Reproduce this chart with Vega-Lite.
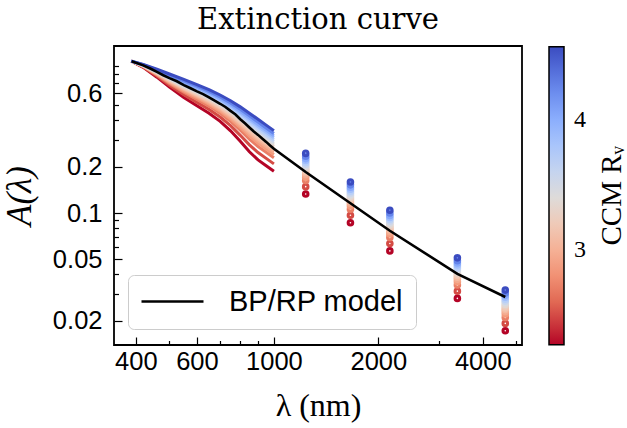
{
"$schema": "https://vega.github.io/schema/vega-lite/v6.json",
"width": 408, "height": 299,
"autosize": {"type": "none"},
"padding": {"left": 114, "top": 46, "right": 105, "bottom": 83},
"background": "white",
"config": {
  "view": {"stroke": "black", "strokeWidth": 1.8},
  "axis": {"domain": false, "grid": false, "tickColor": "black", "tickWidth": 1.2, "labelColor": "black", "titleColor": "black", "labelFont": "Liberation Sans", "labelFontSize": 25.5, "titleFont": "Liberation Serif", "titleFontWeight": "normal", "titleFontSize": 32, "labelOverlap": false, "labelFlush": false}
},
"title": {"text": "Extinction curve", "font": "DejaVu Serif", "fontSize": 29, "fontWeight": "normal", "color": "black", "anchor": "middle", "frame": "group", "offset": 11},
"datasets": {
"curves": [
{"Rv":2.27,"lam":388,"A":0.97},{"Rv":2.27,"lam":420,"A":0.8844},{"Rv":2.27,"lam":460,"A":0.7634},{"Rv":2.27,"lam":500,"A":0.6574},{"Rv":2.27,"lam":550,"A":0.5623},{"Rv":2.27,"lam":600,"A":0.4975},{"Rv":2.27,"lam":650,"A":0.4451},{"Rv":2.27,"lam":700,"A":0.3942},{"Rv":2.27,"lam":750,"A":0.3422},{"Rv":2.27,"lam":800,"A":0.2924},{"Rv":2.27,"lam":850,"A":0.2501},{"Rv":2.27,"lam":900,"A":0.2214},{"Rv":2.27,"lam":950,"A":0.2029},{"Rv":2.27,"lam":1000,"A":0.1868},
{"Rv":2.49,"lam":388,"A":0.97},{"Rv":2.49,"lam":420,"A":0.8900},{"Rv":2.49,"lam":460,"A":0.7769},{"Rv":2.49,"lam":500,"A":0.6775},{"Rv":2.49,"lam":550,"A":0.5869},{"Rv":2.49,"lam":600,"A":0.5236},{"Rv":2.49,"lam":650,"A":0.4715},{"Rv":2.49,"lam":700,"A":0.4209},{"Rv":2.49,"lam":750,"A":0.3695},{"Rv":2.49,"lam":800,"A":0.3200},{"Rv":2.49,"lam":850,"A":0.2775},{"Rv":2.49,"lam":900,"A":0.2473},{"Rv":2.49,"lam":950,"A":0.2267},{"Rv":2.49,"lam":1000,"A":0.2087},
{"Rv":2.71,"lam":388,"A":0.97},{"Rv":2.71,"lam":420,"A":0.8951},{"Rv":2.71,"lam":460,"A":0.7893},{"Rv":2.71,"lam":500,"A":0.6957},{"Rv":2.71,"lam":550,"A":0.6092},{"Rv":2.71,"lam":600,"A":0.5473},{"Rv":2.71,"lam":650,"A":0.4956},{"Rv":2.71,"lam":700,"A":0.4451},{"Rv":2.71,"lam":750,"A":0.3942},{"Rv":2.71,"lam":800,"A":0.3451},{"Rv":2.71,"lam":850,"A":0.3024},{"Rv":2.71,"lam":900,"A":0.2709},{"Rv":2.71,"lam":950,"A":0.2482},{"Rv":2.71,"lam":1000,"A":0.2285},
{"Rv":2.85,"lam":388,"A":0.97},{"Rv":2.85,"lam":420,"A":0.8981},{"Rv":2.85,"lam":460,"A":0.7965},{"Rv":2.85,"lam":500,"A":0.7064},{"Rv":2.85,"lam":550,"A":0.6223},{"Rv":2.85,"lam":600,"A":0.5613},{"Rv":2.85,"lam":650,"A":0.5097},{"Rv":2.85,"lam":700,"A":0.4594},{"Rv":2.85,"lam":750,"A":0.4087},{"Rv":2.85,"lam":800,"A":0.3599},{"Rv":2.85,"lam":850,"A":0.3170},{"Rv":2.85,"lam":900,"A":0.2847},{"Rv":2.85,"lam":950,"A":0.2609},{"Rv":2.85,"lam":1000,"A":0.2402},
{"Rv":2.96,"lam":388,"A":0.97},{"Rv":2.96,"lam":420,"A":0.9004},{"Rv":2.96,"lam":460,"A":0.8020},{"Rv":2.96,"lam":500,"A":0.7144},{"Rv":2.96,"lam":550,"A":0.6321},{"Rv":2.96,"lam":600,"A":0.5717},{"Rv":2.96,"lam":650,"A":0.5202},{"Rv":2.96,"lam":700,"A":0.4701},{"Rv":2.96,"lam":750,"A":0.4196},{"Rv":2.96,"lam":800,"A":0.3709},{"Rv":2.96,"lam":850,"A":0.3280},{"Rv":2.96,"lam":900,"A":0.2951},{"Rv":2.96,"lam":950,"A":0.2704},{"Rv":2.96,"lam":1000,"A":0.2490},
{"Rv":3.06,"lam":388,"A":0.97},{"Rv":3.06,"lam":420,"A":0.9024},{"Rv":3.06,"lam":460,"A":0.8067},{"Rv":3.06,"lam":500,"A":0.7214},{"Rv":3.06,"lam":550,"A":0.6407},{"Rv":3.06,"lam":600,"A":0.5808},{"Rv":3.06,"lam":650,"A":0.5294},{"Rv":3.06,"lam":700,"A":0.4794},{"Rv":3.06,"lam":750,"A":0.4290},{"Rv":3.06,"lam":800,"A":0.3805},{"Rv":3.06,"lam":850,"A":0.3375},{"Rv":3.06,"lam":900,"A":0.3041},{"Rv":3.06,"lam":950,"A":0.2787},{"Rv":3.06,"lam":1000,"A":0.2566},
{"Rv":3.15,"lam":388,"A":0.97},{"Rv":3.15,"lam":420,"A":0.9041},{"Rv":3.15,"lam":460,"A":0.8108},{"Rv":3.15,"lam":500,"A":0.7275},{"Rv":3.15,"lam":550,"A":0.6481},{"Rv":3.15,"lam":600,"A":0.5886},{"Rv":3.15,"lam":650,"A":0.5374},{"Rv":3.15,"lam":700,"A":0.4875},{"Rv":3.15,"lam":750,"A":0.4372},{"Rv":3.15,"lam":800,"A":0.3888},{"Rv":3.15,"lam":850,"A":0.3458},{"Rv":3.15,"lam":900,"A":0.3119},{"Rv":3.15,"lam":950,"A":0.2858},{"Rv":3.15,"lam":1000,"A":0.2632},
{"Rv":3.25,"lam":388,"A":0.97},{"Rv":3.25,"lam":420,"A":0.9059},{"Rv":3.25,"lam":460,"A":0.8152},{"Rv":3.25,"lam":500,"A":0.7340},{"Rv":3.25,"lam":550,"A":0.6560},{"Rv":3.25,"lam":600,"A":0.5971},{"Rv":3.25,"lam":650,"A":0.5460},{"Rv":3.25,"lam":700,"A":0.4961},{"Rv":3.25,"lam":750,"A":0.4460},{"Rv":3.25,"lam":800,"A":0.3977},{"Rv":3.25,"lam":850,"A":0.3546},{"Rv":3.25,"lam":900,"A":0.3203},{"Rv":3.25,"lam":950,"A":0.2935},{"Rv":3.25,"lam":1000,"A":0.2703},
{"Rv":3.35,"lam":388,"A":0.97},{"Rv":3.35,"lam":420,"A":0.9076},{"Rv":3.35,"lam":460,"A":0.8194},{"Rv":3.35,"lam":500,"A":0.7402},{"Rv":3.35,"lam":550,"A":0.6637},{"Rv":3.35,"lam":600,"A":0.6052},{"Rv":3.35,"lam":650,"A":0.5542},{"Rv":3.35,"lam":700,"A":0.5044},{"Rv":3.35,"lam":750,"A":0.4545},{"Rv":3.35,"lam":800,"A":0.4063},{"Rv":3.35,"lam":850,"A":0.3631},{"Rv":3.35,"lam":900,"A":0.3284},{"Rv":3.35,"lam":950,"A":0.3009},{"Rv":3.35,"lam":1000,"A":0.2771},
{"Rv":3.46,"lam":388,"A":0.97},{"Rv":3.46,"lam":420,"A":0.9095},{"Rv":3.46,"lam":460,"A":0.8239},{"Rv":3.46,"lam":500,"A":0.7468},{"Rv":3.46,"lam":550,"A":0.6718},{"Rv":3.46,"lam":600,"A":0.6138},{"Rv":3.46,"lam":650,"A":0.5629},{"Rv":3.46,"lam":700,"A":0.5132},{"Rv":3.46,"lam":750,"A":0.4635},{"Rv":3.46,"lam":800,"A":0.4154},{"Rv":3.46,"lam":850,"A":0.3721},{"Rv":3.46,"lam":900,"A":0.3369},{"Rv":3.46,"lam":950,"A":0.3087},{"Rv":3.46,"lam":1000,"A":0.2843},
{"Rv":3.58,"lam":388,"A":0.97},{"Rv":3.58,"lam":420,"A":0.9114},{"Rv":3.58,"lam":460,"A":0.8285},{"Rv":3.58,"lam":500,"A":0.7537},{"Rv":3.58,"lam":550,"A":0.6802},{"Rv":3.58,"lam":600,"A":0.6228},{"Rv":3.58,"lam":650,"A":0.5720},{"Rv":3.58,"lam":700,"A":0.5224},{"Rv":3.58,"lam":750,"A":0.4728},{"Rv":3.58,"lam":800,"A":0.4250},{"Rv":3.58,"lam":850,"A":0.3816},{"Rv":3.58,"lam":900,"A":0.3458},{"Rv":3.58,"lam":950,"A":0.3169},{"Rv":3.58,"lam":1000,"A":0.2918},
{"Rv":3.71,"lam":388,"A":0.97},{"Rv":3.71,"lam":420,"A":0.9135},{"Rv":3.71,"lam":460,"A":0.8334},{"Rv":3.71,"lam":500,"A":0.7609},{"Rv":3.71,"lam":550,"A":0.6890},{"Rv":3.71,"lam":600,"A":0.6321},{"Rv":3.71,"lam":650,"A":0.5815},{"Rv":3.71,"lam":700,"A":0.5320},{"Rv":3.71,"lam":750,"A":0.4826},{"Rv":3.71,"lam":800,"A":0.4348},{"Rv":3.71,"lam":850,"A":0.3913},{"Rv":3.71,"lam":900,"A":0.3551},{"Rv":3.71,"lam":950,"A":0.3254},{"Rv":3.71,"lam":1000,"A":0.2996},
{"Rv":3.86,"lam":388,"A":0.97},{"Rv":3.86,"lam":420,"A":0.9157},{"Rv":3.86,"lam":460,"A":0.8387},{"Rv":3.86,"lam":500,"A":0.7688},{"Rv":3.86,"lam":550,"A":0.6986},{"Rv":3.86,"lam":600,"A":0.6423},{"Rv":3.86,"lam":650,"A":0.5918},{"Rv":3.86,"lam":700,"A":0.5425},{"Rv":3.86,"lam":750,"A":0.4932},{"Rv":3.86,"lam":800,"A":0.4456},{"Rv":3.86,"lam":850,"A":0.4021},{"Rv":3.86,"lam":900,"A":0.3652},{"Rv":3.86,"lam":950,"A":0.3347},{"Rv":3.86,"lam":1000,"A":0.3082},
{"Rv":4.03,"lam":388,"A":0.97},{"Rv":4.03,"lam":420,"A":0.9180},{"Rv":4.03,"lam":460,"A":0.8444},{"Rv":4.03,"lam":500,"A":0.7772},{"Rv":4.03,"lam":550,"A":0.7090},{"Rv":4.03,"lam":600,"A":0.6533},{"Rv":4.03,"lam":650,"A":0.6030},{"Rv":4.03,"lam":700,"A":0.5537},{"Rv":4.03,"lam":750,"A":0.5047},{"Rv":4.03,"lam":800,"A":0.4573},{"Rv":4.03,"lam":850,"A":0.4136},{"Rv":4.03,"lam":900,"A":0.3761},{"Rv":4.03,"lam":950,"A":0.3447},{"Rv":4.03,"lam":1000,"A":0.3174},
{"Rv":4.26,"lam":388,"A":0.97},{"Rv":4.26,"lam":420,"A":0.9211},{"Rv":4.26,"lam":460,"A":0.8517},{"Rv":4.26,"lam":500,"A":0.7879},{"Rv":4.26,"lam":550,"A":0.7221},{"Rv":4.26,"lam":600,"A":0.6673},{"Rv":4.26,"lam":650,"A":0.6171},{"Rv":4.26,"lam":700,"A":0.5680},{"Rv":4.26,"lam":750,"A":0.5192},{"Rv":4.26,"lam":800,"A":0.4720},{"Rv":4.26,"lam":850,"A":0.4282},{"Rv":4.26,"lam":900,"A":0.3900},{"Rv":4.26,"lam":950,"A":0.3574},{"Rv":4.26,"lam":1000,"A":0.3291},
{"Rv":4.56,"lam":388,"A":0.97},{"Rv":4.56,"lam":420,"A":0.9247},{"Rv":4.56,"lam":460,"A":0.8604},{"Rv":4.56,"lam":500,"A":0.8008},{"Rv":4.56,"lam":550,"A":0.7378},{"Rv":4.56,"lam":600,"A":0.6840},{"Rv":4.56,"lam":650,"A":0.6340},{"Rv":4.56,"lam":700,"A":0.5851},{"Rv":4.56,"lam":750,"A":0.5366},{"Rv":4.56,"lam":800,"A":0.4897},{"Rv":4.56,"lam":850,"A":0.4458},{"Rv":4.56,"lam":900,"A":0.4065},{"Rv":4.56,"lam":950,"A":0.3726},{"Rv":4.56,"lam":1000,"A":0.3431}
],
"dots": [
{"Rv":2.27,"lam":1235,"A":0.1330},{"Rv":2.49,"lam":1235,"A":0.1485},{"Rv":2.71,"lam":1235,"A":0.1627},{"Rv":2.85,"lam":1235,"A":0.1710},{"Rv":2.96,"lam":1235,"A":0.1772},{"Rv":3.06,"lam":1235,"A":0.1826},{"Rv":3.15,"lam":1235,"A":0.1873},{"Rv":3.25,"lam":1235,"A":0.1924},{"Rv":3.35,"lam":1235,"A":0.1972},{"Rv":3.46,"lam":1235,"A":0.2023},{"Rv":3.58,"lam":1235,"A":0.2077},{"Rv":3.71,"lam":1235,"A":0.2133},{"Rv":3.86,"lam":1235,"A":0.2194},{"Rv":4.03,"lam":1235,"A":0.2259},{"Rv":4.26,"lam":1235,"A":0.2342},{"Rv":4.56,"lam":1235,"A":0.2442},
{"Rv":2.27,"lam":1662,"A":0.0865},{"Rv":2.49,"lam":1662,"A":0.0967},{"Rv":2.71,"lam":1662,"A":0.1059},{"Rv":2.85,"lam":1662,"A":0.1113},{"Rv":2.96,"lam":1662,"A":0.1154},{"Rv":3.06,"lam":1662,"A":0.1189},{"Rv":3.15,"lam":1662,"A":0.1220},{"Rv":3.25,"lam":1662,"A":0.1252},{"Rv":3.35,"lam":1662,"A":0.1284},{"Rv":3.46,"lam":1662,"A":0.1317},{"Rv":3.58,"lam":1662,"A":0.1352},{"Rv":3.71,"lam":1662,"A":0.1388},{"Rv":3.86,"lam":1662,"A":0.1428},{"Rv":4.03,"lam":1662,"A":0.1471},{"Rv":4.26,"lam":1662,"A":0.1525},{"Rv":4.56,"lam":1662,"A":0.1590},
{"Rv":2.27,"lam":2159,"A":0.0568},{"Rv":2.49,"lam":2159,"A":0.0635},{"Rv":2.71,"lam":2159,"A":0.0695},{"Rv":2.85,"lam":2159,"A":0.0731},{"Rv":2.96,"lam":2159,"A":0.0757},{"Rv":3.06,"lam":2159,"A":0.0780},{"Rv":3.15,"lam":2159,"A":0.0800},{"Rv":3.25,"lam":2159,"A":0.0822},{"Rv":3.35,"lam":2159,"A":0.0843},{"Rv":3.46,"lam":2159,"A":0.0864},{"Rv":3.58,"lam":2159,"A":0.0887},{"Rv":3.71,"lam":2159,"A":0.0911},{"Rv":3.86,"lam":2159,"A":0.0937},{"Rv":4.03,"lam":2159,"A":0.0965},{"Rv":4.26,"lam":2159,"A":0.1001},{"Rv":4.56,"lam":2159,"A":0.1043},
{"Rv":2.27,"lam":3380,"A":0.0279},{"Rv":2.49,"lam":3380,"A":0.0311},{"Rv":2.71,"lam":3380,"A":0.0341},{"Rv":2.85,"lam":3380,"A":0.0358},{"Rv":2.96,"lam":3380,"A":0.0371},{"Rv":3.06,"lam":3380,"A":0.0383},{"Rv":3.15,"lam":3380,"A":0.0393},{"Rv":3.25,"lam":3380,"A":0.0403},{"Rv":3.35,"lam":3380,"A":0.0413},{"Rv":3.46,"lam":3380,"A":0.0424},{"Rv":3.58,"lam":3380,"A":0.0435},{"Rv":3.71,"lam":3380,"A":0.0447},{"Rv":3.86,"lam":3380,"A":0.0460},{"Rv":4.03,"lam":3380,"A":0.0474},{"Rv":4.26,"lam":3380,"A":0.0491},{"Rv":4.56,"lam":3380,"A":0.0512},
{"Rv":2.27,"lam":4645,"A":0.0172},{"Rv":2.49,"lam":4645,"A":0.0192},{"Rv":2.71,"lam":4645,"A":0.0210},{"Rv":2.85,"lam":4645,"A":0.0221},{"Rv":2.96,"lam":4645,"A":0.0229},{"Rv":3.06,"lam":4645,"A":0.0236},{"Rv":3.15,"lam":4645,"A":0.0242},{"Rv":3.25,"lam":4645,"A":0.0249},{"Rv":3.35,"lam":4645,"A":0.0255},{"Rv":3.46,"lam":4645,"A":0.0262},{"Rv":3.58,"lam":4645,"A":0.0268},{"Rv":3.71,"lam":4645,"A":0.0276},{"Rv":3.86,"lam":4645,"A":0.0284},{"Rv":4.03,"lam":4645,"A":0.0292},{"Rv":4.26,"lam":4645,"A":0.0303},{"Rv":4.56,"lam":4645,"A":0.0316}
],
"model": [
{"label":"BP/RP model","lam":389,"A":0.970},{"label":"BP/RP model","lam":420,"A":0.911},{"label":"BP/RP model","lam":440,"A":0.869},{"label":"BP/RP model","lam":460,"A":0.827},{"label":"BP/RP model","lam":480,"A":0.786},{"label":"BP/RP model","lam":500,"A":0.752},{"label":"BP/RP model","lam":525,"A":0.718},{"label":"BP/RP model","lam":550,"A":0.678},{"label":"BP/RP model","lam":575,"A":0.647},{"label":"BP/RP model","lam":600,"A":0.617},{"label":"BP/RP model","lam":625,"A":0.593},{"label":"BP/RP model","lam":650,"A":0.565},{"label":"BP/RP model","lam":675,"A":0.537},{"label":"BP/RP model","lam":700,"A":0.513},{"label":"BP/RP model","lam":725,"A":0.489},{"label":"BP/RP model","lam":750,"A":0.461},{"label":"BP/RP model","lam":775,"A":0.437},{"label":"BP/RP model","lam":800,"A":0.407},{"label":"BP/RP model","lam":825,"A":0.383},{"label":"BP/RP model","lam":850,"A":0.360},{"label":"BP/RP model","lam":875,"A":0.339},{"label":"BP/RP model","lam":900,"A":0.322},{"label":"BP/RP model","lam":925,"A":0.305},{"label":"BP/RP model","lam":950,"A":0.290},{"label":"BP/RP model","lam":975,"A":0.275},{"label":"BP/RP model","lam":1000,"A":0.262},{"label":"BP/RP model","lam":1235,"A":0.1847},{"label":"BP/RP model","lam":1662,"A":0.1159},{"label":"BP/RP model","lam":2159,"A":0.0768},{"label":"BP/RP model","lam":3380,"A":0.0403},{"label":"BP/RP model","lam":4645,"A":0.0285}
]
},
"encoding": {
  "x": {"field": "lam", "type": "quantitative",
    "scale": {"type": "log", "domain": [346, 5190], "nice": false},
    "axis": {"title": "λ  (nm)", "values": [400,500,600,700,800,900,1000,2000,3000,4000,5000],
      "labelExpr": "datum.value == 400 ? '400' : datum.value == 600 ? '600' : datum.value == 1000 ? '1000' : datum.value == 2000 ? '2000' : datum.value == 4000 ? '4000' : ''",
      "tickSize": {"condition": {"test": "datum.value == 400 || datum.value == 600 || datum.value == 1000 || datum.value == 2000 || datum.value == 4000", "value": -8}, "value": -4.5},
      "labelPadding": 32, "labelBaseline": "alphabetic", "titleY": 70, "titleBaseline": "alphabetic"}},
  "y": {"field": "A", "type": "quantitative",
    "scale": {"type": "log", "domain": [0.0139, 1.217], "nice": false},
    "axis": {"title": "A(λ)", "values": [0.02,0.03,0.04,0.05,0.06,0.07,0.08,0.09,0.1,0.2,0.3,0.4,0.5,0.6,0.7,0.8,0.9],
      "labelExpr": "datum.value == 0.02 ? '0.02' : datum.value == 0.05 ? '0.05' : datum.value == 0.1 ? '0.1' : datum.value == 0.2 ? '0.2' : datum.value == 0.6 ? '0.6' : ''",
      "tickSize": {"condition": {"test": "datum.value == 0.02 || datum.value == 0.05 || datum.value == 0.1 || datum.value == 0.2 || datum.value == 0.6", "value": -8}, "value": -4.5},
      "labelPadding": 20, "titleX": -84, "titleY": 149.5, "titleBaseline": "alphabetic", "titleFontStyle": "italic", "titleFontSize": 35}}
},
"layer": [
  {"data": {"name": "curves"}, "mark": {"type": "line", "strokeWidth": 3},
   "encoding": {
     "detail": {"field": "Rv", "type": "quantitative"},
     "color": {"field": "Rv", "type": "quantitative",
       "scale": {"domain": [2.27, 2.55625, 2.8425, 3.12875, 3.415, 3.70125, 3.9875, 4.27375, 4.56], "range": ["#b40426","#de604d","#f49a7b","#f5c4ac","#dddcdc","#b8d0f9","#8db0fe","#6282ea","#3b4cc0"], "interpolate": "rgb"},
       "legend": {"orient": "none", "legendX": 435, "legendY": 0.7, "direction": "vertical", "gradientLength": 298, "gradientThickness": 15, "gradientStrokeColor": "black", "gradientStrokeWidth": 1.5, "values": [3, 4], "format": "d", "labelFont": "Liberation Serif", "labelFontSize": 24, "labelOffset": 10, "labelColor": "black", "title": "CCM Rᵥ", "titleOrient": "right", "titleAnchor": "middle", "titleFont": "Liberation Serif", "titleFontSize": 29, "titleFontWeight": "normal", "titleColor": "black", "titlePadding": 12, "padding": 0, "encoding": {"title": {"angle": {"value": -90}, "baseline": {"value": "top"}}}}}
   }},
  {"data": {"name": "dots"}, "mark": {"type": "point", "shape": "circle", "filled": false, "size": 9, "strokeWidth": 4.6, "opacity": 1},
   "encoding": {
     "color": {"field": "Rv", "type": "quantitative",
       "scale": {"domain": [2.27, 2.55625, 2.8425, 3.12875, 3.415, 3.70125, 3.9875, 4.27375, 4.56], "range": ["#b40426","#de604d","#f49a7b","#f5c4ac","#dddcdc","#b8d0f9","#8db0fe","#6282ea","#3b4cc0"], "interpolate": "rgb"}}
   }},
  {"data": {"name": "model"}, "mark": {"type": "line", "strokeWidth": 2.6},
   "encoding": {
     "stroke": {"field": "label", "type": "nominal", "scale": {"range": ["black"]},
       "legend": {"orient": "none", "legendX": 14, "legendY": 229, "title": null, "symbolType": "stroke", "symbolSize": 3844, "symbolStrokeWidth": 2.6, "symbolStrokeColor": "black", "clipHeight": 29, "labelFont": "Liberation Sans", "labelFontSize": 29, "labelOffset": 24, "labelColor": "black", "labelLimit": 400, "padding": 12, "strokeColor": "#cccccc", "fillColor": "white", "cornerRadius": 6}}
   }}
]
}
